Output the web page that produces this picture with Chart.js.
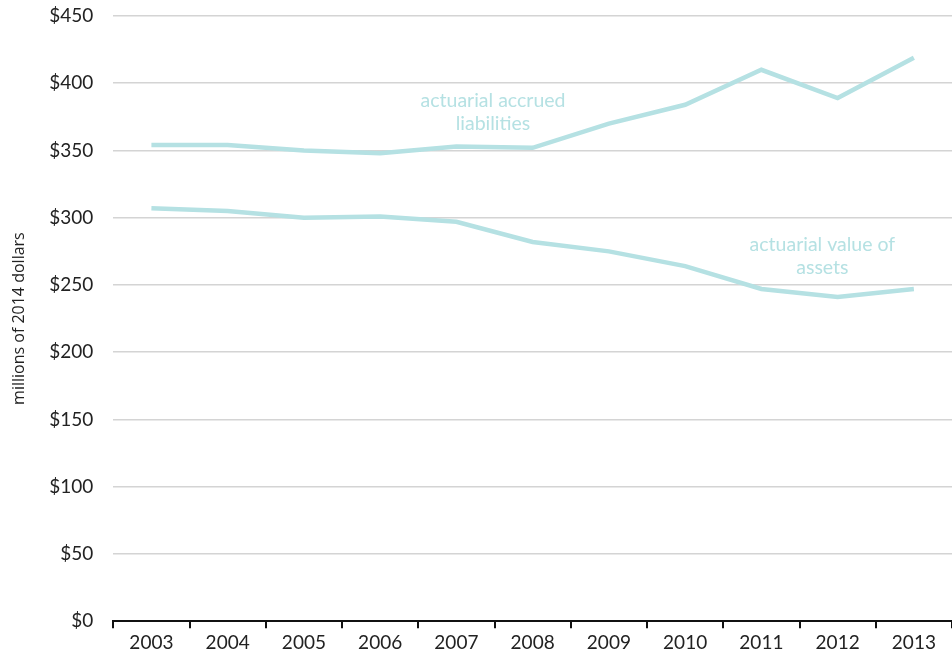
<!DOCTYPE html>
<html>
<head>
<meta charset="utf-8">
<script src="https://cdn.jsdelivr.net/npm/chart.js@4/dist/chart.umd.min.js"></script>
<style>
  html, body { margin: 0; padding: 0; background: #fff; }
  #wrap { width: 952px; height: 659px; position: relative; }
</style>
</head>
<body>
<div id="wrap"><canvas id="chart"></canvas></div>
<script>
const years = ['2003', '2004', '2005', '2006', '2007', '2008', '2009', '2010', '2011', '2012', '2013'];
const liabilities = [354, 354, 350, 348, 353, 352, 370, 384, 410, 389, 419];
const assets = [307, 305, 300, 301, 297, 282, 275, 264, 247, 241, 247];
const yTicks = [0, 50, 100, 150, 200, 250, 300, 350, 400, 450];

const lineColor = '#b5e1e3';
const textFont = 'Lato, "Open Sans", sans-serif';

// text labels next to the lines
const notes = [
    { lines: ['actuarial accrued', 'liabilities'], x: 4.48, y: 387 },
    { lines: ['actuarial value of', 'assets'], x: 8.8, y: 280 }
];

const notePlugin = {
    id: 'notes',
    afterDatasetsDraw(chart) {
        const ctx = chart.ctx;
        const xs = chart.scales.x;
        const ys = chart.scales.y;
        ctx.save();
        ctx.fillStyle = lineColor;
        ctx.font = '19.5px ' + textFont;
        ctx.textAlign = 'center';
        ctx.textBaseline = 'middle';
        notes.forEach(n => {
            const px = xs.getPixelForValue(n.x);
            let py = ys.getPixelForValue(n.y);
            n.lines.forEach(t => {
                ctx.fillText(t, px, py);
                py += 23;
            });
        });
        ctx.restore();
    }
};

new Chart(document.getElementById('chart'), {
    type: 'line',
    data: {
        labels: years,
        datasets: [{
            label: 'actuarial accrued liabilities',
            data: liabilities,
            borderColor: lineColor,
            borderWidth: 4.5,
            pointRadius: 0,
            tension: 0,
            fill: false
        }, {
            label: 'actuarial value of assets',
            data: assets,
            borderColor: lineColor,
            borderWidth: 4.5,
            pointRadius: 0,
            tension: 0,
            fill: false
        }]
    },
    options: {
        responsive: true,
        maintainAspectRatio: false,
        animation: false,
        layout: { padding: { top: 16, right: 0, left: 10, bottom: 2 } },
        plugins: {
            legend: { display: false },
            tooltip: { enabled: false }
        },
        scales: {
            x: {
                offset: true,
                grid: {
                    offset: true,
                    drawOnChartArea: false,
                    drawTicks: true,
                    tickLength: 7,
                    color: '#111',
                    lineWidth: 2
                },
                border: { color: '#111', width: 2 },
                ticks: {
                    color: '#222',
                    font: { family: textFont, size: 19 },
                    padding: 3,
                    maxRotation: 0
                }
            },
            y: {
                min: 0,
                max: 450,
                afterBuildTicks(axis) {
                    axis.ticks = yTicks.map(v => ({ value: v }));
                },
                grid: {
                    color: '#d4d4d4',
                    lineWidth: 1.5,
                    drawTicks: true,
                    tickLength: 16,
                    tickColor: 'rgba(0,0,0,0)'
                },
                border: { display: false },
                ticks: {
                    color: '#222',
                    padding: 4,
                    font: { family: textFont, size: 19 },
                    callback: v => '$' + v
                },
                title: {
                    display: true,
                    text: 'millions of 2014 dollars',
                    color: '#222',
                    font: { family: '"Open Sans", sans-serif', size: 16 },
                    padding: { top: 0, bottom: 16 }
                }
            }
        }
    },
    plugins: [notePlugin]
});
</script>
</body>
</html>
